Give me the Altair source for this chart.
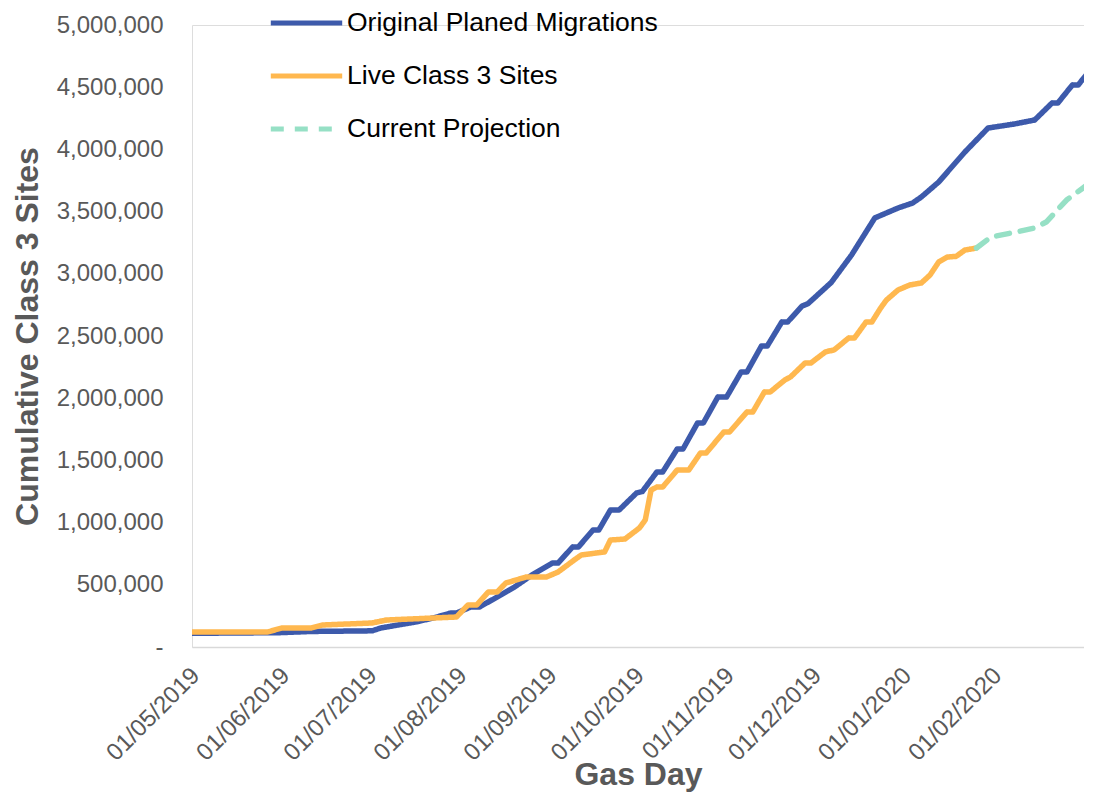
import altair as alt
import pandas as pd

SERIES = ["Original Planed Migrations", "Live Class 3 Sites", "Current Projection"]
COLORS = ["#3D5AAB", "#FFB84F", "#96E0C5"]
DASHES = [[1, 0], [1, 0], [13, 11]]

planned_dates = [
    "2019-05-01", "2019-05-31", "2019-06-11", "2019-07-02", "2019-07-05", "2019-07-11",
    "2019-07-17", "2019-07-23", "2019-07-29", "2019-07-31", "2019-08-05", "2019-08-08",
    "2019-08-14", "2019-08-20", "2019-08-26", "2019-09-02", "2019-09-04", "2019-09-09",
    "2019-09-11", "2019-09-16", "2019-09-18", "2019-09-22", "2019-09-25", "2019-10-01",
    "2019-10-03", "2019-10-08", "2019-10-10", "2019-10-15", "2019-10-17", "2019-10-22",
    "2019-10-24", "2019-10-29", "2019-11-01", "2019-11-06", "2019-11-08", "2019-11-13",
    "2019-11-15", "2019-11-20", "2019-11-22", "2019-11-27", "2019-11-29", "2019-12-07",
    "2019-12-14", "2019-12-22", "2019-12-26", "2019-12-30", "2020-01-04", "2020-01-07",
    "2020-01-13", "2020-01-22", "2020-01-30", "2020-02-08", "2020-02-15", "2020-02-21",
    "2020-02-23", "2020-02-28", "2020-03-01", "2020-03-06",
]
planned_values = [
    110000, 115000, 125000, 130000, 153000, 177000,
    201000, 233000, 273000, 273000, 322000, 322000,
    402000, 482000, 579000, 675000, 675000, 804000,
    804000, 940000, 940000, 1101000, 1101000, 1238000,
    1250000, 1407000, 1407000, 1592000, 1592000, 1801000,
    1801000, 2010000, 2010000, 2211000, 2211000, 2420000,
    2420000, 2613000, 2613000, 2741000, 2760000, 2930000,
    3151000, 3449000, 3489000, 3529000, 3569000, 3617000,
    3738000, 3979000, 4172000, 4204000, 4236000, 4373000,
    4373000, 4518000, 4518000, 4663000,
]

live_dates = [
    "2019-05-01", "2019-05-27", "2019-06-01", "2019-06-11", "2019-06-15", "2019-07-02",
    "2019-07-07", "2019-07-23", "2019-07-31", "2019-08-04", "2019-08-07", "2019-08-11",
    "2019-08-14", "2019-08-17", "2019-08-24", "2019-08-31", "2019-09-04", "2019-09-10",
    "2019-09-12", "2019-09-20", "2019-09-22", "2019-09-27", "2019-10-02", "2019-10-04",
    "2019-10-06", "2019-10-08", "2019-10-10", "2019-10-15", "2019-10-19", "2019-10-23",
    "2019-10-25", "2019-10-31", "2019-11-02", "2019-11-08", "2019-11-10", "2019-11-14",
    "2019-11-16", "2019-11-21", "2019-11-23", "2019-11-28", "2019-11-30", "2019-12-05",
    "2019-12-08", "2019-12-13", "2019-12-15", "2019-12-19", "2019-12-21", "2019-12-24",
    "2019-12-26", "2019-12-30", "2020-01-03", "2020-01-07", "2020-01-10", "2020-01-13",
    "2020-01-16", "2020-01-19", "2020-01-22", "2020-01-26",
]
live_values = [
    121000, 121000, 153000, 153000, 177000, 193000,
    217000, 233000, 241000, 338000, 338000, 442000,
    442000, 514000, 563000, 563000, 603000, 707000,
    740000, 764000, 860000, 868000, 957000, 1021000,
    1262000, 1286000, 1286000, 1423000, 1423000, 1560000,
    1560000, 1728000, 1728000, 1889000, 1889000, 2050000,
    2050000, 2146000, 2171000, 2283000, 2283000, 2372000,
    2388000, 2484000, 2484000, 2613000, 2613000, 2725000,
    2789000, 2870000, 2910000, 2926000, 2990000, 3095000,
    3135000, 3140000, 3191000, 3207000,
]

projection_dates = [
    "2020-01-26", "2020-01-31", "2020-02-07", "2020-02-15", "2020-02-19",
    "2020-02-26", "2020-03-05", "2020-03-07",
]
projection_values = [
    3207000, 3296000, 3328000, 3368000, 3416000,
    3593000, 3730000, 3770000,
]

y_ticks = [0, 500000, 1000000, 1500000, 2000000, 2500000,
           3000000, 3500000, 4000000, 4500000, 5000000]
x_tick_months = [(2019, 5), (2019, 6), (2019, 7), (2019, 8), (2019, 9),
                 (2019, 10), (2019, 11), (2019, 12), (2020, 1), (2020, 2)]
x_domain = [(2019, 5, 1), (2020, 3, 3)]

FONT = "Liberation Sans"

def frame(dates, values, name):
    return pd.DataFrame({"date": dates, "value": values, "series": name})

df_planned = frame(planned_dates, planned_values, SERIES[0])
df_live = frame(live_dates, live_values, SERIES[1])
df_proj = frame(projection_dates, projection_values, SERIES[2])

x_enc = alt.X(
    "date:T",
    scale=alt.Scale(
        type="utc",
        domain=[alt.DateTime(year=y, month=m, date=d, utc=True) for (y, m, d) in x_domain],
    ),
    axis=alt.Axis(
        values=[alt.DateTime(year=y, month=m, date=1, utc=True) for (y, m) in x_tick_months],
        labelExpr="utcFormat(datum.value, '%d/%m/%Y')",
        labelAngle=-45,
        labelAlign="right",
        labelBaseline="top",
        labelFontSize=24,
        labelColor="#595959",
        labelFont=FONT,
        labelPadding=16,
        labelOffset=-5,
        labelOverlap=False,
        ticks=False,
        grid=False,
        domainColor="#d9d9d9",
        domainWidth=1.5,
        title="Gas Day",
        titleFontSize=32,
        titleFont=FONT,
        titleFontWeight="bold",
        titleColor="#595959",
        titleY=137,
        titleBaseline="alphabetic",
    ),
)

y_enc = alt.Y(
    "value:Q",
    scale=alt.Scale(domain=[0, 5000000], nice=False),
    axis=alt.Axis(
        values=y_ticks,
        labelExpr="datum.value == 0 ? '-\u00a0\u00a0' : format(datum.value, ',')",
        labelFontSize=24,
        labelColor="#595959",
        labelFont=FONT,
        labelPadding=29,
        ticks=False,
        domain=False,
        grid=False,
        title="Cumulative Class 3 Sites",
        titleFontSize=32,
        titleFont=FONT,
        titleFontWeight="bold",
        titleColor="#595959",
        titleX=-165,
        titleBaseline="middle",
    ),
)

def legend():
    return alt.Legend(
        title=None,
        orient="none",
        legendX=76,
        legendY=-16,
        symbolType="stroke",
        symbolSize=5100,
        symbolStrokeWidth=5,
        labelFontSize=26.5,
        labelFont=FONT,
        labelColor="#000000",
        labelOffset=2,
        labelLimit=0,
        clipHeight=28,
        rowPadding=25,
        padding=0,
    )

color_enc = alt.Color("series:N", scale=alt.Scale(domain=SERIES, range=COLORS), legend=legend())
dash_enc = alt.StrokeDash("series:N", scale=alt.Scale(domain=SERIES, range=DASHES), legend=legend())

def line(df):
    return alt.Chart(df).mark_line(
        strokeWidth=5.5, strokeCap="round", strokeJoin="round",
        interpolate="linear", clip=True,
    ).encode(x=x_enc, y=y_enc, color=color_enc, strokeDash=dash_enc)

chart = alt.layer(line(df_planned), line(df_live), line(df_proj)).properties(
    width=892,
    height=622,
    autosize=alt.AutoSizeParams(type="none"),
    padding={"left": 184, "top": 17, "right": 0, "bottom": 147},
    background="white",
).configure_view(stroke=None).configure(font=FONT)

chart.save("out.html", embed_options={"renderer": "svg", "actions": False})
